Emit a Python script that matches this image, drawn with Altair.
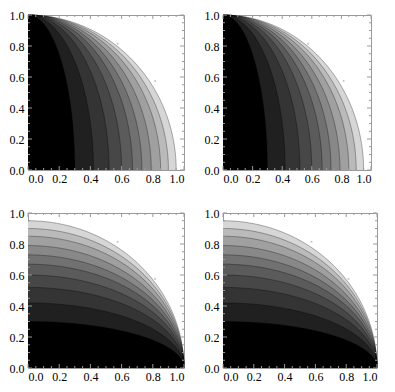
import numpy as np
import pandas as pd
import altair as alt

# contour levels (axis intercepts of each contour line)
levels = [0.30, 0.42, 0.52, 0.60, 0.67, 0.73, 0.79, 0.85, 0.90, 0.95]
band_grays = ["#000000", "#202020", "#343434", "#474747", "#5b5b5b",
              "#717171", "#888888", "#a0a0a0", "#bababa", "#d6d6d6"]
major_ticks = [0.0, 0.2, 0.4, 0.6, 0.8, 1.0]
minor_ticks = [0.05, 0.10, 0.15, 0.25, 0.30, 0.35, 0.45, 0.50, 0.55,
               0.65, 0.70, 0.75, 0.85, 0.90, 0.95]
dot_x = [0.575, 0.815]
dot_y = [0.815, 0.575]

theta = np.linspace(0, np.pi / 2, 241)
curves = pd.DataFrame([{"level": a, "p": float(np.sin(t)), "q": float(a * np.cos(t))}
                       for a in levels for t in theta])
dots = pd.DataFrame({"dx": dot_x, "dy": dot_y})
majors = pd.DataFrame({"v": major_ticks})
minors = pd.DataFrame({"v": minor_ticks})

FRAME = "#9a9a9a"
FONT = "Liberation Serif, Times New Roman, serif"


def sc():
    return alt.Scale(domain=[0, 1], nice=False, zero=False)


def xax():
    return alt.Axis(values=major_ticks, format=".1f", ticks=False, domain=False,
                    grid=False, labelFont=FONT, labelFontSize=12, labelColor="black",
                    labelPadding=3, title=None)


def yax():
    return alt.Axis(values=major_ticks, format=".1f", ticks=False, domain=False,
                    grid=False, labelFont=FONT, labelFontSize=12, labelColor="black",
                    labelPadding=4, title=None)


def X(f):
    return alt.X(f, scale=sc(), axis=xax())


def Y(f):
    return alt.Y(f, scale=sc(), axis=yax())


def tick_layers(w, h):
    out = []
    for df, ln in ((majors, 4), (minors, 2)):
        base = alt.Chart(df).mark_rule(color=FRAME, strokeWidth=1)
        out.append(base.encode(x=X("v:Q"), y=alt.value(h), y2=alt.value(h - ln)))
        out.append(base.encode(x=X("v:Q"), y=alt.value(0), y2=alt.value(ln)))
        out.append(base.encode(y=Y("v:Q"), x=alt.value(0), x2=alt.value(ln)))
        out.append(base.encode(y=Y("v:Q"), x=alt.value(w), x2=alt.value(w - ln)))
    return out


def panel(kind, w, h):
    fills = []
    # draw from the outermost (lightest) band to the innermost (black)
    for k in range(len(levels) - 1, -1, -1):
        lv = levels[k]
        base = alt.Chart(curves).transform_filter(
            alt.datum.level == lv)
        if kind == "top":
            fills.append(base.mark_area(orient="horizontal", color=band_grays[k],
                                        opacity=1).encode(
                y=Y("p:Q"), x=X("q:Q"), x2=alt.datum(0)))
        else:
            fills.append(base.mark_area(orient="vertical", color=band_grays[k],
                                        opacity=1).encode(
                x=X("p:Q"), y=Y("q:Q"), y2=alt.datum(0)))
    if kind == "top":
        cont = alt.Chart(curves).mark_line(color="black", opacity=0.35,
                                           strokeWidth=0.9).encode(
            x=X("q:Q"), y=Y("p:Q"), detail="level:N")
    else:
        cont = alt.Chart(curves).mark_line(color="black", opacity=0.35,
                                           strokeWidth=0.9).encode(
            x=X("p:Q"), y=Y("q:Q"), detail="level:N")
    pts = alt.Chart(dots).mark_circle(size=4, color="#c4c4c4", opacity=1).encode(
        x=X("dx:Q"), y=Y("dy:Q"))
    return alt.layer(*fills, cont, pts, *tick_layers(w, h)).properties(width=w, height=h)


chart = alt.concat(
    panel("top", 156, 155), panel("top", 148, 155),
    panel("bottom", 156, 155), panel("bottom", 154, 155),
    columns=2, spacing={"row": 43, "column": 39}, bounds="flush",
).properties(padding=0).configure_view(stroke=FRAME, strokeWidth=1)

chart.save("out.html", embed_options={"renderer": "svg", "actions": False})
